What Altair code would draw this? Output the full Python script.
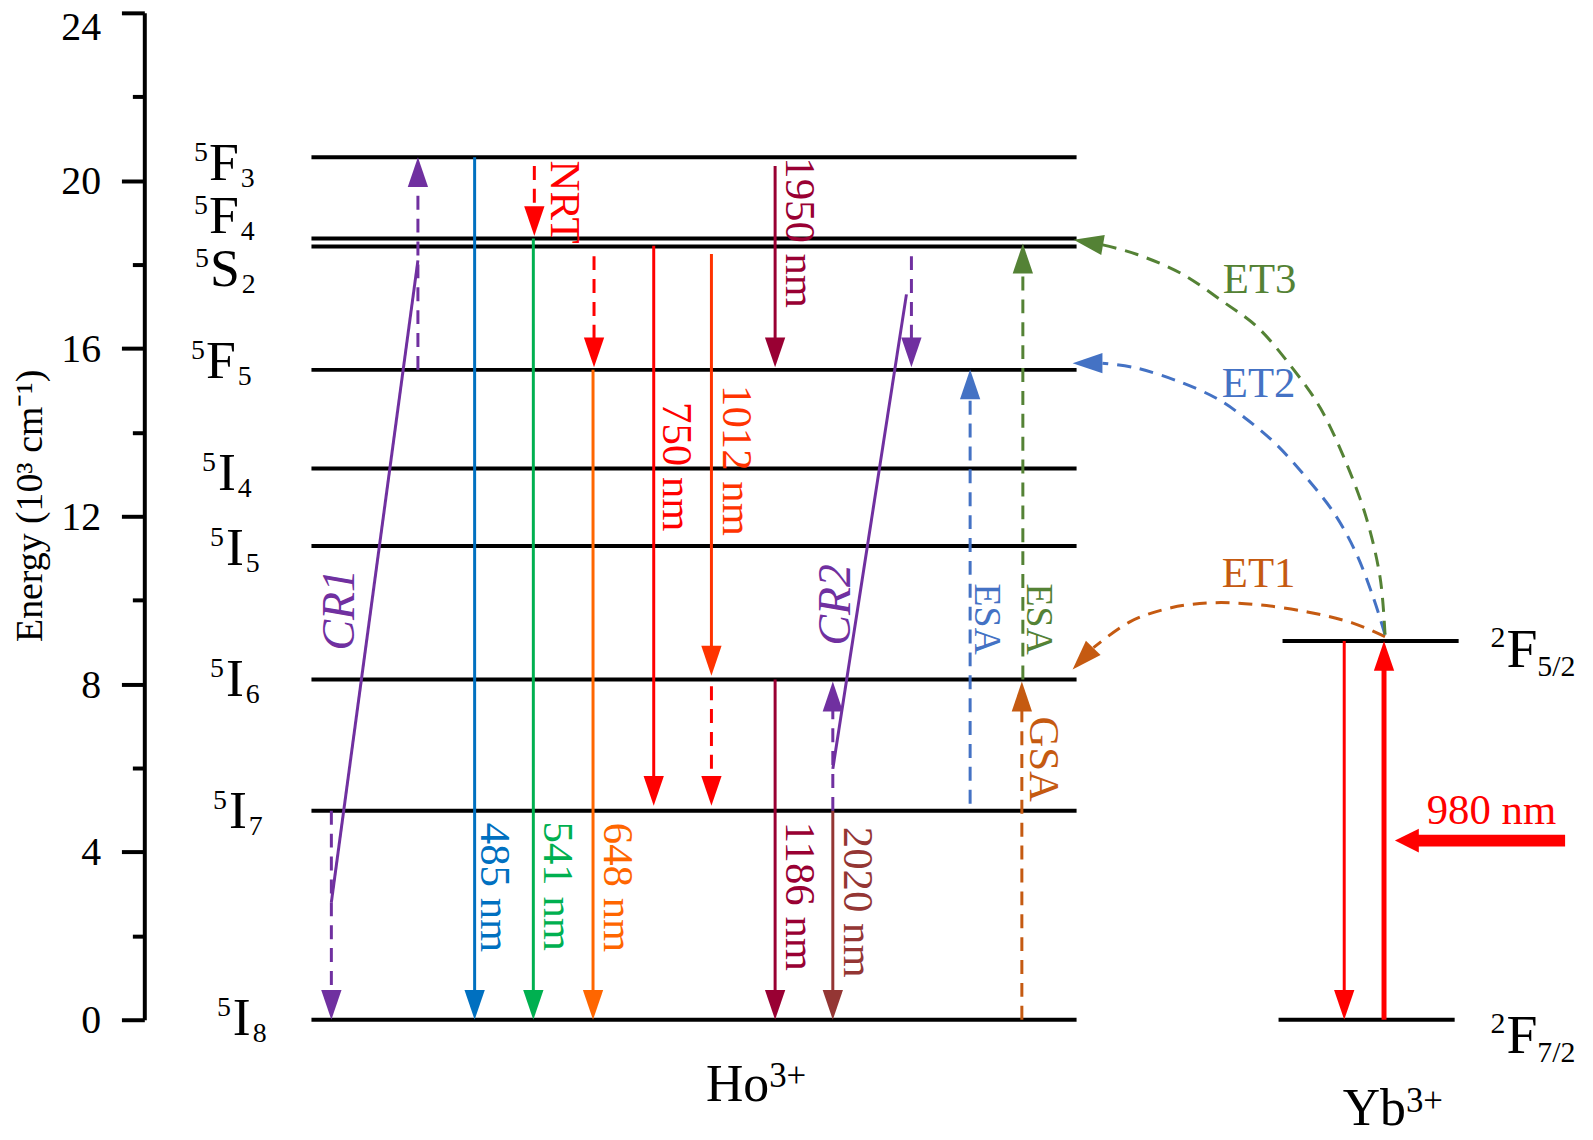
import math
import numpy as np
import pandas as pd
import altair as alt

FONT = "Liberation Serif"

# ------------------------------------------------------------------ frame
E_MAX = 24
tick_values = [0, 2, 4, 6, 8, 10, 12, 14, 16, 18, 20, 22, 24]
X_DOMAIN = [145, 1585]            # horizontal diagram units
PLOT_W, PLOT_H = 1440, 1012
PX_PER_E = PLOT_H / E_MAX
HEAD_LEN = 30
HEAD_PATH = "M0,0L-0.34,-1L0.34,-1Z"
BIG_HEAD_PATH = "M0,0L-0.5,-1L0.5,-1Z"

PALETTE = {
    "purple": "#7030A0", "blue": "#0070C0", "green": "#00B050", "orange": "#FF6600",
    "red": "#FF0000", "orangered": "#FF3300", "darkred": "#990033", "brown": "#943634",
    "esablue": "#4472C4", "esagreen": "#548235", "gsa": "#C55A11",
}

# ------------------------------------------------------------------ energy levels (10^3 cm^-1)
ho_level_name = ["5F3", "5F4", "5S2", "5F5", "5I4", "5I5", "5I6", "5I7", "5I8"]
ho_level_energy = [20.56, 18.62, 18.43, 15.49, 13.14, 11.29, 8.11, 4.98, 0.0]
ho_level_span = [313, 1082]
yb_level_name = ["2F5/2", "2F7/2"]
yb_level_energy = [9.03, 0.0]
yb_level_start = [1289, 1285]
yb_level_end = [1466, 1462]

# level labels
ho_lab_sup = ["5"] * 9
ho_lab_main = ["F", "F", "S", "F", "I", "I", "I", "I", "I"]
ho_lab_sub = ["3", "4", "2", "5", "4", "5", "6", "7", "8"]
ho_lab_x = [210, 210, 211, 207, 219, 227, 227, 230, 234]
ho_lab_e = [20.39, 19.14, 17.86, 15.68, 13.00, 11.22, 8.09, 4.96, 0.02]
yb_lab_sup = ["2", "2"]
yb_lab_main = ["F", "F"]
yb_lab_sub = ["5/2", "7/2"]
yb_lab_x = [1514, 1514]
yb_lab_e = [8.82, -0.38]

ion_name = ["Ho", "Yb"]
ion_charge = ["3+", "3+"]
ion_x = [773, 1413]
ion_e = [-1.56, -2.14]

# ------------------------------------------------------------------ vertical transitions
tr_x = [420, 333, 477, 536, 537, 596, 597, 657, 715, 715, 779, 779, 837, 916, 837, 975, 1028, 1027, 1351]
tr_from = [15.49, 4.98, 20.56, 18.62, 20.35, 15.49, 18.20, 18.45, 18.25, 7.95, 20.35, 8.11, 4.98,
           18.20, 4.98, 5.15, 8.11, 0.0, 9.03]
tr_to = [20.56, 0.0, 0.0, 0.0, 18.68, 0.0, 15.55, 5.10, 8.20, 5.10, 15.55, 0.0, 0.0,
         15.55, 8.06, 15.50, 18.50, 8.06, 0.0]
tr_dashed = [True, True, False, False, True, False, True, False, False, True, False, False, False,
             True, True, True, True, True, False]
tr_color = ["purple", "purple", "blue", "green", "red", "orange", "red", "red", "orangered", "red",
            "darkred", "darkred", "brown", "purple", "purple", "esablue", "esagreen", "gsa", "red"]

# Yb3+ absorption (thick) arrow
pump_up_x = [1391]
pump_up_from = [0.0]
pump_up_to = [9.03]

# incoming 980 nm beam
beam_start = [1573]
beam_tip = [1402]
beam_e = [4.27]

# cross-relaxation connectors
cr_x0 = [333, 837]
cr_e0 = [2.80, 5.98]
cr_x1 = [420, 911]
cr_e1 = [18.10, 17.29]

# energy-transfer curves (Yb -> Ho)
et1_x = [1392, 1359, 1314, 1265, 1220, 1177, 1136, 1099]
et1_e = [9.13, 9.46, 9.72, 9.89, 9.94, 9.82, 9.49, 8.87]
et1_tip = (1078, 8.35)
et2_x = [1392, 1380, 1363, 1341, 1313, 1282, 1251, 1222, 1184, 1143, 1108]
et2_e = [9.18, 10.08, 11.12, 12.07, 12.92, 13.73, 14.35, 14.82, 15.22, 15.53, 15.65]
et2_tip = (1078, 15.65)
et3_x = [1392, 1387, 1373, 1352, 1327, 1299, 1265, 1229, 1187, 1143, 1108]
et3_e = [9.18, 10.55, 11.98, 13.33, 14.58, 15.53, 16.48, 17.12, 17.79, 18.24, 18.47]
et3_tip = (1079, 18.59)

# transition labels (rotated)
tl_text = ["485 nm", "541 nm", "648 nm", "750 nm", "1012 nm", "1950 nm", "1186 nm", "2020 nm",
           "NRT", "GSA"]
tl_x = [496, 560, 620, 679, 740, 803, 803, 861, 567, 1048]
tl_e = [3.15, 3.18, 3.15, 13.18, 13.33, 18.76, 2.94, 2.80, 19.49, 6.21]
tl_color = ["blue", "green", "orange", "red", "orangered", "darkred", "darkred", "brown",
            "red", "gsa"]

esa_text = ["ESA", "ESA"]
esa_x = [991, 1043]
esa_e = [9.55, 9.55]
esa_color = ["esablue", "esagreen"]

cr_text = ["CR1", "CR2"]
cr_lx = [342, 840]
cr_le = [9.77, 9.89]

hl_text = ["ET3", "ET2", "ET1", "980 nm"]
hl_x = [1266, 1265, 1265, 1499]
hl_e = [17.64, 15.15, 10.62, 4.98]
hl_color = ["esagreen", "esablue", "gsa", "red"]

# ------------------------------------------------------------------ helpers
Y_AXIS = alt.Axis(
    values=tick_values,
    labelExpr="datum.value % 4 == 0 ? datum.label : ''",
    tickSize={"condition": {"test": "datum.value % 4 == 0", "value": 23}, "value": 12},
    labelOffset={"condition": {"test": "datum.value == 24", "value": 15}, "value": 1},
    tickWidth=4, domainWidth=4, domainColor="black", tickColor="black",
    labelFont=FONT, labelFontSize=40, labelColor="black", labelPadding=21,
    labelOverlap=False, labelFlush=False, grid=False,
    title="Energy (10³ cm⁻¹)", titleFont=FONT, titleFontSize=38, titleFontWeight="normal",
    titleColor="black", titleX=-114, titleY=495, titleAlign="center", titleBaseline="middle",
    titleAngle=270,
)


def xq(f):
    return alt.X(f"{f}:Q", scale=alt.Scale(domain=X_DOMAIN), axis=None)


def yq(f):
    return alt.Y(f"{f}:Q", scale=alt.Scale(domain=[0, E_MAX]), axis=Y_AXIS)


def hexcol(f="hex"):
    return alt.Color(f"{f}:N", scale=None)


def head_angle(xb, eb, xt, et):
    dx = float(xt - xb)
    dy = -(et - eb) * PX_PER_E
    L = math.hypot(dx, dy)
    return math.degrees(math.atan2(-dx / L, dy / L)) % 360


def text_layer(df, xf, ef, tf, size, align="center", angle=0, dy=0, color=None,
               colorfield=None, italic=False):
    kw = dict(font=FONT, fontSize=size, align=align, baseline="middle", angle=angle, dy=dy)
    if italic:
        kw["fontStyle"] = "italic"
    if colorfield is None:
        kw["color"] = color or "black"
    enc = dict(x=xq(xf), y=yq(ef), text=alt.Text(f"{tf}:N"))
    if colorfield is not None:
        enc["color"] = hexcol(colorfield)
    return alt.Chart(df).mark_text(**kw).encode(**enc)


# ------------------------------------------------------------------ data frames
levels_df = pd.DataFrame({
    "e": ho_level_energy + yb_level_energy,
    "x0": [ho_level_span[0]] * len(ho_level_energy) + yb_level_start,
    "x1": [ho_level_span[1]] * len(ho_level_energy) + yb_level_end,
})

head_e = (HEAD_LEN - 2) / PX_PER_E
tr_df = pd.DataFrame({"x": tr_x, "frm": tr_from, "to": tr_to, "dashed": tr_dashed, "c": tr_color})
tr_df["dir"] = np.sign(tr_df["to"] - tr_df["frm"])
tr_df["end"] = tr_df["to"] - tr_df["dir"] * head_e
tr_df["angle"] = np.where(tr_df["dir"] < 0, 0, 180)
tr_df["hex"] = tr_df["c"].map(PALETTE)
tr_df["style"] = np.where(tr_df["dashed"], "dashed", "solid")

pump_df = pd.DataFrame({"x": pump_up_x, "frm": pump_up_from, "to": pump_up_to})
pump_df["end"] = pump_df["to"] - head_e
pump_df["angle"] = 180

beam_df = pd.DataFrame({"x0": beam_start, "tip": beam_tip, "e": beam_e})
beam_df["base"] = beam_df["tip"] + 22
beam_df["angle"] = 90

cr_df = pd.DataFrame({"x0": cr_x0, "e0": cr_e0, "x1": cr_x1, "e1": cr_e1})

et_rows, et_heads = [], []
for name, xs, es, tip, c in [("ET1", et1_x, et1_e, et1_tip, "gsa"),
                             ("ET2", et2_x, et2_e, et2_tip, "esablue"),
                             ("ET3", et3_x, et3_e, et3_tip, "esagreen")]:
    for i, (xv, ev) in enumerate(zip(xs, es)):
        et_rows.append({"curve": name, "i": i, "x": xv, "e": ev, "hex": PALETTE[c]})
    et_heads.append({"x": tip[0], "e": tip[1], "hex": PALETTE[c],
                     "angle": head_angle(xs[-1], es[-1], tip[0], tip[1])})
et_df = pd.DataFrame(et_rows)
et_head_df = pd.DataFrame(et_heads)

ho_lab = pd.DataFrame({"sup": ho_lab_sup, "main": ho_lab_main, "sub": ho_lab_sub,
                       "x": ho_lab_x, "e": ho_lab_e})
ho_lab["sup_x"] = ho_lab["x"] - np.where(ho_lab["main"] == "I", 2, 1)
ho_lab["sub_x"] = ho_lab["x"] + np.where(ho_lab["main"] == "I", 20, 32)
yb_lab = pd.DataFrame({"sup": yb_lab_sup, "main": yb_lab_main, "sub": yb_lab_sub,
                       "x": yb_lab_x, "e": yb_lab_e})
yb_lab["sup_x"] = yb_lab["x"] - 1
yb_lab["sub_x"] = yb_lab["x"] + 31

ion_df = pd.DataFrame({"name": ion_name, "charge": ion_charge, "x": ion_x, "e": ion_e})

tl_df = pd.DataFrame({"t": tl_text, "x": tl_x, "e": tl_e, "hex": [PALETTE[c] for c in tl_color]})
esa_df = pd.DataFrame({"t": esa_text, "x": esa_x, "e": esa_e, "hex": [PALETTE[c] for c in esa_color]})
crl_df = pd.DataFrame({"t": cr_text, "x": cr_lx, "e": cr_le})
hl_df = pd.DataFrame({"t": hl_text, "x": hl_x, "e": hl_e, "hex": [PALETTE[c] for c in hl_color]})

# ------------------------------------------------------------------ layers
levels = alt.Chart(levels_df).mark_rule(color="black", strokeWidth=4).encode(
    x=xq("x0"), x2="x1", y=yq("e"))

shafts = alt.Chart(tr_df).mark_rule(strokeWidth=3, strokeCap="butt").encode(
    x=xq("x"), y=yq("frm"), y2="end", color=hexcol(),
    strokeDash=alt.StrokeDash("style:N", legend=None,
                              scale=alt.Scale(domain=["solid", "dashed"], range=[[1, 0], [14, 9]])))
heads = alt.Chart(tr_df).mark_point(shape=HEAD_PATH, filled=True, size=(2 * HEAD_LEN) ** 2,
                                    opacity=1, strokeWidth=0).encode(
    x=xq("x"), y=yq("to"), color=hexcol(), angle=alt.Angle("angle:Q", scale=None))

pump_shaft = alt.Chart(pump_df).mark_rule(strokeWidth=5, color=PALETTE["red"]).encode(
    x=xq("x"), y=yq("frm"), y2="end")
pump_head = alt.Chart(pump_df).mark_point(shape=HEAD_PATH, filled=True, size=(2 * HEAD_LEN) ** 2,
                                          opacity=1, strokeWidth=0, color=PALETTE["red"]).encode(
    x=xq("x"), y=yq("to"), angle=alt.Angle("angle:Q", scale=None))

beam_shaft = alt.Chart(beam_df).mark_rule(strokeWidth=12, color=PALETTE["red"]).encode(
    x=xq("base"), x2="x0", y=yq("e"))
beam_head = alt.Chart(beam_df).mark_point(shape=BIG_HEAD_PATH, filled=True, size=48 ** 2,
                                          opacity=1, strokeWidth=0, color=PALETTE["red"]).encode(
    x=xq("tip"), y=yq("e"), angle=alt.Angle("angle:Q", scale=None))

cr_lines = alt.Chart(cr_df).mark_rule(strokeWidth=3, color=PALETTE["purple"]).encode(
    x=xq("x0"), x2="x1", y=yq("e0"), y2="e1")

et_lines = alt.Chart(et_df).mark_line(strokeWidth=3, strokeDash=[14, 9], interpolate="cardinal").encode(
    x=xq("x"), y=yq("e"), detail="curve:N", order="i:Q", color=hexcol())
et_arrow = alt.Chart(et_head_df).mark_point(shape=HEAD_PATH, filled=True, size=(2 * HEAD_LEN) ** 2,
                                            opacity=1, strokeWidth=0).encode(
    x=xq("x"), y=yq("e"), color=hexcol(), angle=alt.Angle("angle:Q", scale=None))

ho_main = text_layer(ho_lab, "x", "e", "main", 54, align="left")
ho_sup = text_layer(ho_lab, "sup_x", "e", "sup", 28, align="right", dy=-11)
ho_sub = text_layer(ho_lab, "sub_x", "e", "sub", 28, align="left", dy=15)
yb_main = text_layer(yb_lab, "x", "e", "main", 56, align="left")
yb_sup = text_layer(yb_lab, "sup_x", "e", "sup", 30, align="right", dy=-12)
yb_sub = text_layer(yb_lab, "sub_x", "e", "sub", 30, align="left", dy=17)
ion_main = text_layer(ion_df, "x", "e", "name", 52, align="right")
ion_sup = text_layer(ion_df, "x", "e", "charge", 35, align="left", dy=-9)

tr_labels = text_layer(tl_df, "x", "e", "t", 43, angle=90, colorfield="hex")
esa_labels = text_layer(esa_df, "x", "e", "t", 38, angle=90, colorfield="hex")
cr_labels = text_layer(crl_df, "x", "e", "t", 46, angle=270, color=PALETTE["purple"], italic=True)
h_labels = text_layer(hl_df, "x", "e", "t", 43, colorfield="hex")

chart = alt.layer(
    levels, et_lines, et_arrow, cr_lines, shafts, heads, pump_shaft, pump_head,
    beam_shaft, beam_head, ho_main, ho_sup, ho_sub, yb_main, yb_sup, yb_sub,
    ion_main, ion_sup, tr_labels, esa_labels, cr_labels, h_labels,
).properties(
    width=PLOT_W, height=PLOT_H,
    padding={"left": 137, "top": 2, "right": 8, "bottom": 118},
    autosize=alt.AutoSizeParams(type="none"),
    background="white",
).configure_view(stroke=None)

chart.save("out.html", embed_options={"renderer": "svg", "actions": False})
